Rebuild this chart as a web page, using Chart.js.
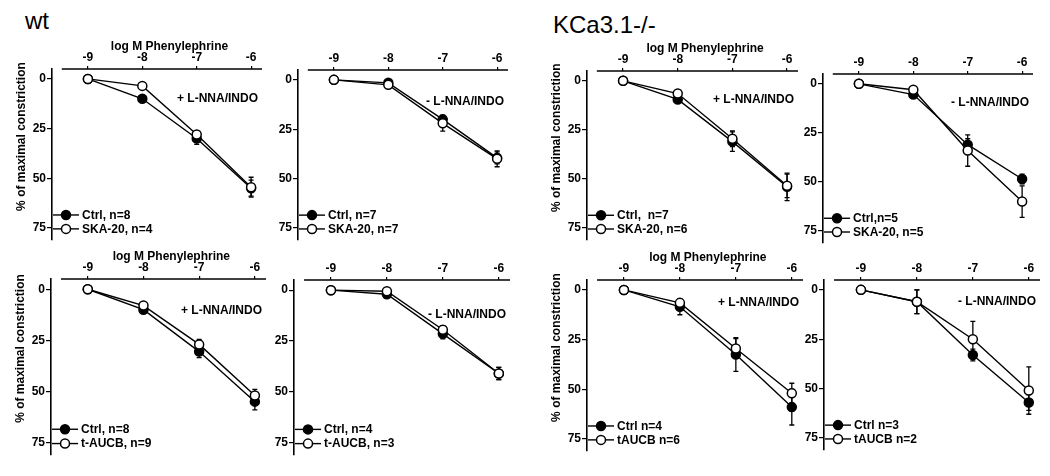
<!DOCTYPE html>
<html>
<head>
<meta charset="utf-8">
<script src="https://cdn.jsdelivr.net/npm/chart.js@4/dist/chart.umd.min.js"></script>
<style>
  body { margin: 0; background: #fff; width: 1050px; height: 476px; position: relative; overflow: hidden; }
  canvas { position: absolute; }
  .big { position: absolute; font: 24px "Liberation Sans", Arial, sans-serif; line-height: 24px; color: #000; white-space: nowrap; }
</style>
</head>
<body>
<div class="big" style="left:25px; top:9px;">wt</div>
<div class="big" style="left:553px; top:13px;">KCa3.1-/-</div>

<script>
// log M phenylephrine doses
const doses = [-9, -8, -7, -6];
const xTicks = [-9, -8, -7, -6];
const yTicks = [0, 25, 50, 75];

// % of maximal constriction, mean and SEM, one array per panel and group
const ctrlWtSkaPlus = [0, 10, 30, 55];
const ctrlWtSkaPlusErr = [0, 1.5, 3, 4];
const skaWtPlus = [0, 3.5, 28, 54.5];
const skaWtPlusErr = [0, 1, 2, 5];

const ctrlWtSkaMinus = [0, 1.5, 20, 39.5];
const ctrlWtSkaMinusErr = [0, 1, 2, 3];
const skaWtMinus = [0, 2.5, 22, 40];
const skaWtMinusErr = [0, 1, 4, 4];

const ctrlKoSkaPlus = [0, 9.5, 31, 54];
const ctrlKoSkaPlusErr = [0, 2, 5, 7];
const skaKoPlus = [0, 6.5, 29.5, 53.5];
const skaKoPlusErr = [0, 1.5, 4, 6];

const ctrlKoSkaMinus = [0, 5.5, 31, 48.5];
const ctrlKoSkaMinusErr = [0, 1.5, 3, 2.5];
const skaKoMinus = [0, 3, 34, 60];
const skaKoMinusErr = [0, 1, 8, 8];

const ctrlWtAucbPlus = [0, 10, 30.5, 55];
const ctrlWtAucbPlusErr = [0, 1.5, 3, 4];
const aucbWtPlus = [0, 8, 27, 52];
const aucbWtPlusErr = [0, 1.5, 2.5, 3];

const ctrlWtAucbMinus = [0, 2, 21.5, 41];
const ctrlWtAucbMinusErr = [0, 1, 2.5, 3];
const aucbWtMinus = [0, 0.5, 19.5, 41];
const aucbWtMinusErr = [0, 1, 2, 3];

const ctrlKoAucbPlus = [0, 8.5, 32.5, 59];
const ctrlKoAucbPlusErr = [0, 4, 8.5, 9];
const aucbKoPlus = [0, 6.5, 29.5, 52];
const aucbKoPlusErr = [0, 1, 5, 5];

const ctrlKoAucbMinus = [0, 6, 33, 57];
const ctrlKoAucbMinusErr = [0, 6, 3, 4];
const aucbKoMinus = [0, 6, 25, 51];
const aucbKoMinusErr = [0, 6, 9, 12];

const treatments = ['+ L-NNA/INDO', '- L-NNA/INDO', '+ L-NNA/INDO', '- L-NNA/INDO',
                    '+ L-NNA/INDO', '- L-NNA/INDO', '+ L-NNA/INDO', '- L-NNA/INDO'];
const ctrlLabels = ['Ctrl, n=8', 'Ctrl, n=7', 'Ctrl,  n=7', 'Ctrl,n=5',
                    'Ctrl, n=8', 'Ctrl, n=4', 'Ctrl n=4', 'Ctrl n=3'];
const drugLabels = ['SKA-20, n=4', 'SKA-20, n=7', 'SKA-20, n=6', 'SKA-20, n=5',
                    't-AUCB, n=9', 't-AUCB, n=3', 'tAUCB n=6', 'tAUCB n=2'];

const xTitle = 'log M Phenylephrine';
const yTitle = '% of maximal constriction';

// panel boxes (plot area edges in page pixels)
const panels = [
  { L: 52,  T: 69,  R: 262,  B: 242, ctrl: ctrlWtSkaPlus,   ctrlErr: ctrlWtSkaPlusErr,   drug: skaWtPlus,   drugErr: skaWtPlusErr,   titles: true,  noteY: 10 },
  { L: 298, T: 70,  R: 508,  B: 242, ctrl: ctrlWtSkaMinus,  ctrlErr: ctrlWtSkaMinusErr,  drug: skaWtMinus,  drugErr: skaWtMinusErr,  titles: false, noteY: 11 },
  { L: 587, T: 71,  R: 798,  B: 242, ctrl: ctrlKoSkaPlus,   ctrlErr: ctrlKoSkaPlusErr,   drug: skaKoPlus,   drugErr: skaKoPlusErr,   titles: true,  noteY: 9.5 },
  { L: 823, T: 74,  R: 1033, B: 245, ctrl: ctrlKoSkaMinus,  ctrlErr: ctrlKoSkaMinusErr,  drug: skaKoMinus,  drugErr: skaKoMinusErr,  titles: false, noteY: 9.5 },
  { L: 51,  T: 279, R: 266,  B: 457, ctrl: ctrlWtAucbPlus,  ctrlErr: ctrlWtAucbPlusErr,  drug: aucbWtPlus,  drugErr: aucbWtPlusErr,  titles: true,  noteY: 10.5 },
  { L: 294, T: 280, R: 510,  B: 457, ctrl: ctrlWtAucbMinus, ctrlErr: ctrlWtAucbMinusErr, drug: aucbWtMinus, drugErr: aucbWtMinusErr, titles: false, noteY: 12 },
  { L: 587, T: 280, R: 803,  B: 453, ctrl: ctrlKoAucbPlus,  ctrlErr: ctrlKoAucbPlusErr,  drug: aucbKoPlus,  drugErr: aucbKoPlusErr,  titles: true,  noteY: 6.5 },
  { L: 824, T: 280, R: 1040, B: 452, ctrl: ctrlKoAucbMinus, ctrlErr: ctrlKoAucbMinusErr, drug: aucbKoMinus, drugErr: aucbKoMinusErr, titles: false, noteY: 6 },
];

const FONT = '"Liberation Sans", Arial, sans-serif';
const PAD = { left: 12, top: 30, right: 6, bottom: 6 };
const YAXIS_W = 30, XAXIS_H = 20;

function dot(ctx, x, y, filled) {
  ctx.beginPath();
  ctx.arc(x, y, 4.5, 0, Math.PI * 2);
  ctx.fillStyle = filled ? '#000' : '#fff';
  ctx.fill();
  ctx.lineWidth = 1.5;
  ctx.strokeStyle = '#000';
  ctx.stroke();
}

const deco = {
  id: 'deco',
  beforeDatasetsDraw(chart) {
    const { ctx } = chart;
    const xs = chart.scales.x, ys = chart.scales.y;
    ctx.save();
    ctx.strokeStyle = '#000';
    ctx.lineWidth = 1.3;
    chart.data.datasets.forEach(ds => {
      ds.data.forEach((p, i) => {
        const e = ds.err[i];
        if (!e) return;
        const x = xs.getPixelForValue(p.x);
        const y1 = ys.getPixelForValue(p.y - e);
        const y2 = ys.getPixelForValue(p.y + e);
        ctx.beginPath();
        ctx.moveTo(x, y1); ctx.lineTo(x, y2);
        ctx.moveTo(x - 2.5, y1); ctx.lineTo(x + 2.5, y1);
        ctx.moveTo(x - 2.5, y2); ctx.lineTo(x + 2.5, y2);
        ctx.stroke();
      });
    });
    ctx.restore();
  },
  afterDraw(chart, args, opts) {
    const { ctx, chartArea } = chart;
    const xs = chart.scales.x, ys = chart.scales.y;
    ctx.save();
    // top x axis line, starts a bit right of the y axis
    ctx.strokeStyle = '#000';
    ctx.lineWidth = 1.6;
    ctx.beginPath();
    ctx.moveTo(xs.getPixelForValue(-9.48), chartArea.top);
    ctx.lineTo(chartArea.right, chartArea.top);
    ctx.stroke();

    ctx.fillStyle = '#000';
    ctx.font = 'bold 12px ' + FONT;
    if (opts.titles) {
      ctx.textAlign = 'center';
      ctx.textBaseline = 'middle';
      ctx.fillText(xTitle, xs.getPixelForValue(-7.5), chartArea.top - 22);
      ctx.save();
      ctx.translate(chartArea.left - 30, ys.getPixelForValue(29));
      ctx.rotate(-Math.PI / 2);
      ctx.fillText(yTitle, 0, 0);
      ctx.restore();
    }
    // treatment note
    ctx.textAlign = 'right';
    ctx.textBaseline = 'middle';
    ctx.fillText(opts.note, chartArea.right - 4, ys.getPixelForValue(opts.noteY));

    // legend
    const rows = [[chart.data.datasets[0], 68.5], [chart.data.datasets[1], 75.5]];
    rows.forEach(([ds, v]) => {
      const y = ys.getPixelForValue(v);
      const x0 = chartArea.left + 1;
      ctx.strokeStyle = '#000';
      ctx.lineWidth = 1.4;
      ctx.beginPath();
      ctx.moveTo(x0, y); ctx.lineTo(x0 + 26, y);
      ctx.stroke();
      dot(ctx, x0 + 13, y, ds.filled);
      ctx.fillStyle = '#000';
      ctx.textAlign = 'left';
      ctx.fillText(ds.label, x0 + 29, y + 0.5);
    });
    ctx.restore();
  }
};

panels.forEach((p, k) => {
  const w = p.R - p.L + PAD.left + YAXIS_W + PAD.right;
  const h = p.B - p.T + PAD.top + XAXIS_H + PAD.bottom;
  const cv = document.createElement('canvas');
  cv.width = w; cv.height = h;
  cv.style.width = w + 'px'; cv.style.height = h + 'px';
  cv.style.left = (p.L - PAD.left - YAXIS_W) + 'px';
  cv.style.top = (p.T - PAD.top - XAXIS_H) + 'px';
  document.body.appendChild(cv);

  const series = (vals, errs, label, filled, order) => ({
    label: label,
    data: doses.map((x, i) => ({ x: x, y: vals[i] })),
    err: errs,
    filled: filled,
    order: order,
    borderColor: '#000',
    borderWidth: 1.4,
    pointRadius: 4.5,
    pointBorderWidth: 1.5,
    pointBorderColor: '#000',
    pointBackgroundColor: filled ? '#000' : '#fff',
    tension: 0,
    fill: false,
  });

  new Chart(cv.getContext('2d'), {
    type: 'line',
    data: {
      datasets: [
        series(p.ctrl, p.ctrlErr, ctrlLabels[k], true, 1),
        series(p.drug, p.drugErr, drugLabels[k], false, 0),
      ],
    },
    options: {
      responsive: false,
      animation: false,
      devicePixelRatio: 1,
      layout: { padding: PAD },
      plugins: {
        legend: { display: false },
        tooltip: { enabled: false },
        deco: { titles: p.titles, note: treatments[k], noteY: p.noteY },
      },
      scales: {
        x: {
          type: 'linear',
          position: 'top',
          min: -9.66,
          max: -5.8,
          afterBuildTicks: s => { s.ticks = xTicks.map(v => ({ value: v })); },
          afterFit: s => { s.height = XAXIS_H; },
          grid: { drawOnChartArea: false, tickLength: 3, color: '#000', lineWidth: 1.2 },
          border: { display: false },
          ticks: { color: '#000', padding: 1, font: { family: FONT, size: 12, weight: 'bold' } },
        },
        y: {
          type: 'linear',
          reverse: true,
          min: -5,
          max: 81,
          afterBuildTicks: s => { s.ticks = yTicks.map(v => ({ value: v })); },
          afterFit: s => { s.width = YAXIS_W; },
          grid: { drawOnChartArea: false, tickLength: 5, color: '#000', lineWidth: 1.2 },
          border: { display: true, color: '#000', width: 1.6 },
          ticks: { color: '#000', padding: 1, font: { family: FONT, size: 12, weight: 'bold' } },
        },
      },
    },
    plugins: [deco],
  });
});
</script>
</body>
</html>
